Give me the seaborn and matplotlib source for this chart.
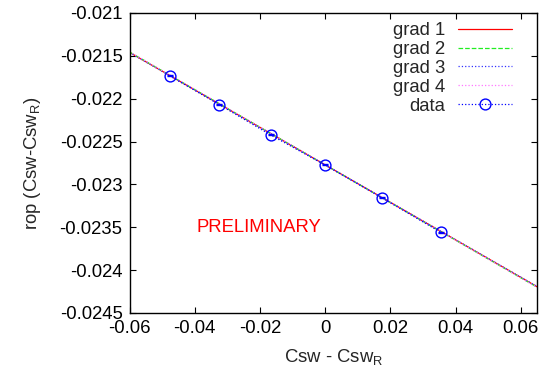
import matplotlib
matplotlib.use("Agg")
import matplotlib.pyplot as plt
import seaborn as sns
import numpy as np
from matplotlib.ticker import FuncFormatter
from matplotlib.lines import Line2D

# ---- data ----
data_x = [-0.0477, -0.0324, -0.0167, 0.0, 0.0174, 0.0355]
data_y = [-0.021731, -0.022070, -0.022423, -0.022773, -0.023155, -0.023559]
data_err = [0.000006, 0.000006, 0.000006, 0.000006, 0.000006, 0.000006]

grad_labels = ["grad 1", "grad 2", "grad 3", "grad 4"]
grad_x_ends = [-0.06, 0.065]
grad_y_left = [-0.021459, -0.021455, -0.021462, -0.021452]
grad_y_right = [-0.024193, -0.024198, -0.024190, -0.024200]
grad_colors = ["#ff0000", "#22ee22", "#3333ff", "#ff77ff"]
grad_styles = ["-", "--", ":", ":"]

xticks = [-0.06, -0.04, -0.02, 0, 0.02, 0.04, 0.06]
yticks = [-0.021, -0.0215, -0.022, -0.0225, -0.023, -0.0235, -0.024, -0.0245]

FS = 13.3

sns.set_style("ticks")
plt.rcParams["font.family"] = ["Liberation Sans", "DejaVu Sans"]
plt.rcParams["mathtext.default"] = "regular"

fig = plt.figure(figsize=(5.43, 3.72), dpi=100)
ax = fig.add_axes([129.5 / 543, 1 - 313 / 372, (537 - 129.5) / 543, (313 - 13) / 372])

handles = []
for lab, yl, yr, c, ls in zip(grad_labels, grad_y_left, grad_y_right, grad_colors, grad_styles):
    sns.lineplot(x=grad_x_ends, y=[yl, yr], ax=ax, color=c, linestyle=ls,
                 linewidth=0.9, legend=False)
    handles.append(Line2D([], [], color=c, linestyle=ls, linewidth=0.9, label=lab))

ax.errorbar(data_x, data_y, yerr=data_err, fmt="o", linestyle=":", color="#0000ff",
            markerfacecolor="none", markeredgecolor="#0000ff", markersize=7.8,
            markeredgewidth=1.0, linewidth=0.9, capsize=2.5, elinewidth=0.9)
handles.append(Line2D([], [], color="#0000ff", linestyle=":", linewidth=0.9,
                      marker="o", markersize=7.8, markerfacecolor="none",
                      markeredgecolor="#0000ff", label="data"))

ax.set_xlim(-0.06, 0.065)
ax.set_ylim(-0.0245, -0.021)
ax.set_xticks(xticks)
ax.set_yticks(yticks)
fmt = FuncFormatter(lambda v, p: "%g" % round(v, 6))
ax.xaxis.set_major_formatter(fmt)
ax.yaxis.set_major_formatter(fmt)
ax.tick_params(direction="in", length=4, width=0.8, labelsize=FS,
               top=True, right=True, pad=5, colors="black")
for s in ax.spines.values():
    s.set_linewidth(1.0)
    s.set_color("black")

ax.set_xlabel("Csw - Csw$_R$", fontsize=FS, labelpad=7)
ax.set_ylabel("rop (Csw-Csw$_R$)", fontsize=FS, labelpad=12)

ax.text(-0.0204, -0.023508, "PRELIMINARY", color="#ff0000", fontsize=FS,
        ha="center", va="center")

leg = ax.legend(handles=handles, loc="upper right", frameon=False, markerfirst=False,
                fontsize=FS, handlelength=2.9, labelspacing=0.1, numpoints=1,
                borderaxespad=0.1, handletextpad=0.7,
                bbox_to_anchor=(1 - 16 / 407.5, 1.0))

fig.savefig("out.png", dpi=100)
